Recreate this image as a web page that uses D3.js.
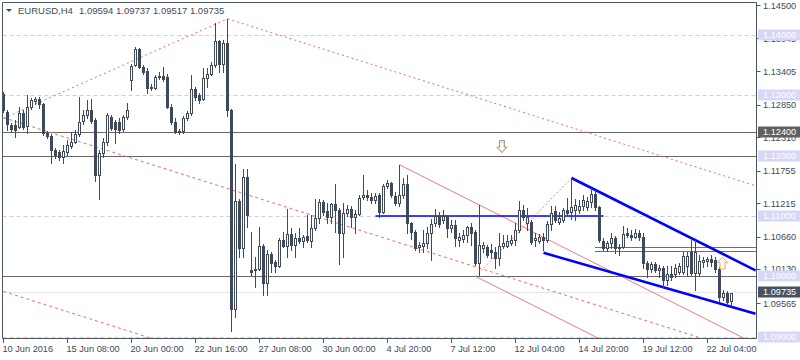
<!DOCTYPE html>
<html>
<head>
<meta charset="utf-8">
<script src="https://cdn.jsdelivr.net/npm/d3@7"></script>
<style>
    html, body { margin: 0; padding: 0; background: #fff; }
    svg { display: block; font-family: "Liberation Sans", Arial, sans-serif; }
</style>
</head>
<body>
<svg id="chart" width="800" height="360"></svg>
<script>
// EURUSD H4 candles (bar 0 = 10 Jun 16:00)
const open = [
    1.1303,1.1273,1.1252,1.1252,1.1249,1.1272,1.1250,1.1282,1.1292,1.1295,
    1.1287,1.1239,1.1234,1.1210,1.1207,1.1199,1.1207,1.1217,1.1224,1.1237,
    1.1259,1.1268,1.1277,1.1260,1.1169,1.1205,1.1224,1.1265,1.1257,1.1257,
    1.1245,1.1265,1.1326,1.1351,1.1378,1.1348,1.1341,1.1313,1.1313,1.1332,
    1.1333,1.1332,1.1282,1.1257,1.1242,1.1242,1.1263,1.1272,1.1312,1.1302,
    1.1295,1.1330,1.1336,1.1351,1.1391,1.1353,1.1388,1.1277,1.0947,1.1126,
    1.1048,1.1166,1.1011,1.1011,1.1013,1.1051,1.0990,1.1038,1.1025,1.1018,
    1.1061,1.1051,1.1071,1.1053,1.1064,1.1059,1.1068,1.1059,1.1081,1.1098,
    1.1124,1.1109,1.1099,1.1121,1.1111,1.1073,1.1106,1.1113,1.1099,1.1104,
    1.1132,1.1136,1.1132,1.1128,1.1136,1.1108,1.1151,1.1156,1.1134,1.1123,
    1.1136,1.1154,1.1089,1.1074,1.1050,1.1051,1.1056,1.1073,1.1089,1.1101,
    1.1094,1.1101,1.1081,1.1086,1.1061,1.1063,1.1069,1.1083,1.1074,1.1023,
    1.1048,1.1050,1.1045,1.1041,1.1031,1.1051,1.1051,1.1056,1.1061,1.1078,
    1.1111,1.1089,1.1091,1.1061,1.1059,1.1066,1.1061,1.1088,1.1109,1.1091,
    1.1094,1.1111,1.1108,1.1111,1.1111,1.1118,1.1116,1.1124,1.1137,1.1116,
    1.1059,1.1048,1.1056,1.1064,1.1048,1.1050,1.1073,1.1069,1.1066,1.1073,
    1.1066,1.1023,1.1013,1.1021,1.1011,1.1015,1.0995,1.1005,1.1005,1.1008,
    1.1008,1.1018,1.1041,1.1007,1.1007,1.1025,1.1026,1.1030,1.1028,1.1013,
    1.0967,1.0973,1.09594
];
const high = [
    1.1307,1.1277,1.1255,1.1260,1.1282,1.1277,1.1302,1.1297,1.1298,1.1298,
    1.1288,1.1242,1.1237,1.1214,1.1210,1.1219,1.1227,1.1239,1.1244,1.1298,
    1.1277,1.1293,1.1295,1.1263,1.1210,1.1230,1.1272,1.1268,1.1260,1.1263,
    1.1268,1.1288,1.1353,1.1381,1.1380,1.1351,1.1346,1.1320,1.1335,1.1340,
    1.1348,1.1336,1.1287,1.1263,1.1245,1.1267,1.1275,1.1335,1.1315,1.1305,
    1.1346,1.1346,1.1356,1.1421,1.1393,1.1393,1.1428,1.1278,1.1187,1.1129,
    1.1179,1.1179,1.1074,1.1033,1.1083,1.1055,1.1045,1.1041,1.1028,1.1064,
    1.1074,1.1113,1.1081,1.1073,1.1081,1.1069,1.1103,1.1103,1.1129,1.1129,
    1.1128,1.1123,1.1123,1.1154,1.1114,1.1123,1.1119,1.1118,1.1111,1.1136,
    1.1169,1.1144,1.1139,1.1139,1.1139,1.1154,1.1161,1.1157,1.1141,1.1186,
    1.1164,1.1169,1.1091,1.1078,1.1058,1.1078,1.1083,1.1096,1.1113,1.1108,
    1.1111,1.1103,1.1094,1.1094,1.1073,1.1078,1.1084,1.1089,1.1078,1.1119,
    1.1058,1.1053,1.1055,1.1050,1.1073,1.1069,1.1069,1.1069,1.1089,1.1126,
    1.1119,1.1114,1.1094,1.1073,1.1071,1.1073,1.1093,1.1118,1.1118,1.1108,
    1.1114,1.1131,1.1164,1.1129,1.1128,1.1136,1.1132,1.1147,1.1144,1.1118,
    1.1064,1.1059,1.1073,1.1068,1.1055,1.1084,1.1081,1.1078,1.1079,1.1078,
    1.1073,1.1026,1.1025,1.1025,1.1020,1.1018,1.1018,1.1018,1.1021,1.1023,
    1.1041,1.1041,1.1061,1.1061,1.1036,1.1033,1.1033,1.1036,1.1033,1.1016,
    1.0978,1.0977,1.09737
];
const low = [
    1.1273,1.1244,1.1240,1.1232,1.1247,1.1245,1.1239,1.1278,1.1287,1.1280,
    1.1235,1.1230,1.1189,1.1197,1.1194,1.1189,1.1202,1.1214,1.1222,1.1234,
    1.1254,1.1263,1.1255,1.1159,1.1129,1.1199,1.1219,1.1244,1.1222,1.1239,
    1.1242,1.1262,1.1310,1.1350,1.1346,1.1336,1.1305,1.1310,1.1312,1.1328,
    1.1325,1.1280,1.1254,1.1239,1.1237,1.1239,1.1260,1.1268,1.1293,1.1288,
    1.1293,1.1315,1.1335,1.1348,1.1340,1.1340,1.1267,1.0910,1.0934,1.1033,
    1.1033,1.1083,1.1003,1.0983,1.1011,1.0970,1.0970,1.1008,1.1008,1.1016,
    1.1050,1.1033,1.1045,1.1033,1.1056,1.1050,1.1058,1.1050,1.1078,1.1089,
    1.1103,1.1089,1.1089,1.1074,1.1021,1.1033,1.1101,1.1083,1.1073,1.1103,
    1.1129,1.1128,1.1123,1.1123,1.1099,1.1106,1.1147,1.1132,1.1119,1.1118,
    1.1131,1.1073,1.1063,1.1045,1.1041,1.1041,1.1048,1.1028,1.1084,1.1083,
    1.1089,1.1066,1.1074,1.1051,1.1051,1.1058,1.1058,1.1053,1.1020,1.1001,
    1.1041,1.1033,1.1031,1.1015,1.1020,1.1048,1.1050,1.1053,1.1053,1.1074,
    1.1094,1.1078,1.1055,1.1051,1.1056,1.1045,1.1058,1.1078,1.1091,1.1088,
    1.1091,1.1103,1.1096,1.1094,1.1106,1.1111,1.1111,1.1116,1.1111,1.1058,
    1.1045,1.1043,1.1048,1.1040,1.1036,1.1048,1.1066,1.1061,1.1064,1.1061,
    1.1015,1.1000,1.1008,1.1008,1.1000,1.0983,1.0987,1.0995,1.1000,1.1005,
    1.1005,1.1003,1.1003,1.0978,1.1003,1.1016,1.1018,1.1018,1.1008,1.0958,
    1.0962,1.0957,1.09517
];
const close = [
    1.1277,1.1254,1.1245,1.1244,1.1272,1.1249,1.1282,1.1293,1.1295,1.1287,
    1.1239,1.1234,1.1210,1.1202,1.1199,1.1209,1.1219,1.1224,1.1237,1.1257,
    1.1268,1.1277,1.1259,1.1169,1.1205,1.1224,1.1268,1.1247,1.1245,1.1244,
    1.1265,1.1277,1.1350,1.1378,1.1348,1.1340,1.1313,1.1315,1.1332,1.1333,
    1.1328,1.1282,1.1257,1.1240,1.1240,1.1263,1.1272,1.1312,1.1298,1.1293,
    1.1330,1.1336,1.1351,1.1391,1.1353,1.1388,1.1277,1.0947,1.1126,1.1048,
    1.1166,1.1103,1.1008,1.1013,1.1051,1.0990,1.1038,1.1023,1.1018,1.1061,
    1.1051,1.1071,1.1053,1.1064,1.1059,1.1066,1.1061,1.1081,1.1098,1.1124,
    1.1108,1.1099,1.1121,1.1111,1.1073,1.1106,1.1113,1.1099,1.1104,1.1131,
    1.1136,1.1132,1.1128,1.1134,1.1108,1.1151,1.1156,1.1136,1.1123,1.1136,
    1.1154,1.1089,1.1074,1.1048,1.1053,1.1056,1.1073,1.1088,1.1101,1.1088,
    1.1101,1.1081,1.1086,1.1064,1.1066,1.1069,1.1083,1.1073,1.1023,1.1053,
    1.1053,1.1036,1.1041,1.1031,1.1051,1.1056,1.1059,1.1061,1.1078,1.1111,
    1.1099,1.1099,1.1058,1.1064,1.1066,1.1061,1.1088,1.1106,1.1094,1.1098,
    1.1111,1.1106,1.1116,1.1119,1.1118,1.1128,1.1126,1.1137,1.1116,1.1061,
    1.1048,1.1056,1.1064,1.1048,1.1050,1.1071,1.1069,1.1066,1.1073,1.1066,
    1.1023,1.1013,1.1021,1.1011,1.1015,1.0995,1.1005,1.1000,1.1015,1.1018,
    1.1035,1.1035,1.1007,1.1041,1.1026,1.1028,1.1030,1.1025,1.1013,1.0967,
    1.0973,1.0958,1.09735
];

// axis ticks
const priceTicks = [1.145, 1.13945, 1.13405, 1.1285, 1.1231, 1.11755, 1.11215, 1.1066, 1.1013, 1.09565];
const timeTickBars = [0, 16, 32, 48, 64, 80, 96, 112, 128, 144, 160, 176];
const timeTickLabels = ['10 Jun 2016', '15 Jun 08:00', '20 Jun 00:00', '22 Jun 16:00', '27 Jun 08:00',
    '30 Jun 00:00', '4 Jul 20:00', '7 Jul 12:00', '12 Jul 04:00', '14 Jul 20:00', '19 Jul 12:00', '22 Jul 04:00'];

// horizontal line objects
const roundLevels = [1.14, 1.13, 1.12, 1.11, 1.10, 1.09];
const solidLevels = [1.124, 1.12, 1.10];
const markedLevel = 1.124;
const shortLevels = [1.1049, 1.1043];
const shortLevelStart = 148;

// trend line objects as [bar, price]
const peakRise = [[0, 1.1263], [56, 1.1428]];
const channelTop = [[56, 1.1428], [190, 1.1147]];
const channelMid = [[0, 1.1264], [190, 1.0866]];
const channelLow = [[0, 1.0976], [60, 1.0850]];
const pitchA = [99, 1.1186];
const pitchB = [118, 1.1001];
const pitchC = [142, 1.1164];
const blueFlat = [[93, 1.1101], [150, 1.1101]];
const blueUpper = [[142, 1.1164], [188, 1.1011]];
const blueLower = [[135, 1.1040], [188, 1.0939]];

// arrow markers [bar, price]
const downArrow = [124.6, 1.1216];
const upArrow = [179.75, 1.1023];

const ink = '#3e4a5a';
const lavender = '#cacaf2';
const redLine = '#ef6b6b';

const svg = d3.select('#chart');
const x = d3.scaleLinear().domain([0, 182]).range([3.5, 731.5]);
const y = d3.scaleLinear().domain([1.09, 1.145]).range([337.3, 5.5]);
const snap = v => Math.round(v - 0.5) + 0.5;
const fmt = d3.format('.5f');

const plotLeft = 2.5, plotRight = 756.5, plotTop = 2.5, plotBottom = 338.5;

svg.append('rect').attr('width', 800).attr('height', 360).attr('fill', '#fff');

svg.append('clipPath').attr('id', 'plot-clip')
    .append('rect')
    .attr('x', plotLeft + 0.5).attr('y', plotTop + 0.5)
    .attr('width', plotRight - plotLeft - 1).attr('height', plotBottom - plotTop - 1);

const plot = svg.append('g').attr('clip-path', 'url(#plot-clip)');

// round-number levels
plot.selectAll('line.round')
    .data(roundLevels)
    .enter().append('line')
    .attr('class', 'round')
    .attr('x1', plotLeft).attr('x2', plotRight)
    .attr('y1', d => snap(y(d))).attr('y2', d => snap(y(d)))
    .attr('stroke', lavender)
    .attr('stroke-dasharray', '4,3');

plot.selectAll('line.solid')
    .data(solidLevels)
    .enter().append('line')
    .attr('class', 'solid')
    .attr('x1', plotLeft).attr('x2', plotRight)
    .attr('y1', d => snap(y(d))).attr('y2', d => snap(y(d)))
    .attr('stroke', '#676767');

plot.selectAll('line.short')
    .data(shortLevels)
    .enter().append('line')
    .attr('class', 'short')
    .attr('x1', x(shortLevelStart) - 0.5).attr('x2', plotRight)
    .attr('y1', d => snap(y(d))).attr('y2', d => snap(y(d)))
    .attr('stroke', '#6f6f6f');

// bid line
const lastPrice = close[close.length - 1];
plot.append('line')
    .attr('x1', plotLeft).attr('x2', plotRight)
    .attr('y1', snap(y(lastPrice))).attr('y2', snap(y(lastPrice)))
    .attr('stroke', '#e6e6e6');

const trend = d3.line().x(d => x(d[0])).y(d => y(d[1]));

function drawTrend(points, color, width, dash) {
    plot.append('path')
        .attr('d', trend(points))
        .attr('fill', 'none')
        .attr('stroke', color)
        .attr('stroke-width', width)
        .attr('stroke-dasharray', dash || null);
}

drawTrend(peakRise, redLine, 1, '2,3');
drawTrend(channelTop, redLine, 1, '2,3');
drawTrend(channelMid, redLine, 1, '3,3');
drawTrend(channelLow, redLine, 1, '3,3');

// Andrews pitchfork from A, B, C
const mid = [(pitchB[0] + pitchC[0]) / 2, (pitchB[1] + pitchC[1]) / 2];
const slope = (mid[1] - pitchA[1]) / (mid[0] - pitchA[0]);
const forkEnd = 195;
const ray = p => [p, [forkEnd, p[1] + slope * (forkEnd - p[0])]];
drawTrend(ray(pitchA), '#f07c7c', 1);
drawTrend(ray(pitchB), '#f07c7c', 1);
drawTrend(ray(pitchC), '#f07c7c', 1);
drawTrend([pitchB, pitchC], '#f07c7c', 1, '2,2');

drawTrend(blueFlat, '#0000ff', 1.5);
drawTrend(blueUpper, '#0000ff', 2.6);
drawTrend(blueLower, '#0000ff', 2.6);

// candles
const bars = open.map((o, i) => ({i: i, o: o, h: high[i], l: low[i], c: close[i]}));

const candle = plot.selectAll('g.candle')
    .data(bars)
    .enter().append('g')
    .attr('class', 'candle');

candle.append('rect')
    .attr('x', d => x(d.i) - 0.5)
    .attr('y', d => Math.round(y(d.h)))
    .attr('width', 1)
    .attr('height', d => Math.round(y(d.l)) - Math.round(y(d.h)) + 1)
    .attr('fill', ink);

candle.each(function (d) {
    const g = d3.select(this);
    const top = Math.round(y(Math.max(d.o, d.c)));
    const bot = Math.round(y(Math.min(d.o, d.c)));
    const cx = x(d.i);
    if (d.c >= d.o && bot > top) {
        g.append('rect')
            .attr('x', cx - 1).attr('y', top + 0.5)
            .attr('width', 2).attr('height', bot - top)
            .attr('fill', '#fff').attr('stroke', ink);
    } else {
        g.append('rect')
            .attr('x', cx - 1.5).attr('y', top)
            .attr('width', 3).attr('height', bot - top + 1)
            .attr('fill', ink);
    }
});

// arrow markers
function arrowPath(cx, cy, up) {
    const s = up ? -1 : 1;
    const p = d3.path();
    p.moveTo(cx - 2.5, cy - 6 * s);
    p.lineTo(cx + 2.5, cy - 6 * s);
    p.lineTo(cx + 2.5, cy + 0.5 * s);
    p.lineTo(cx + 5, cy + 0.5 * s);
    p.lineTo(cx, cy + 6 * s);
    p.lineTo(cx - 5, cy + 0.5 * s);
    p.lineTo(cx - 2.5, cy + 0.5 * s);
    p.closePath();
    return p.toString();
}

plot.append('path')
    .attr('d', arrowPath(x(downArrow[0]), y(downArrow[1]), false))
    .attr('fill', '#fff').attr('stroke', '#8a8a8a');
plot.append('path')
    .attr('d', arrowPath(x(downArrow[0]), y(downArrow[1]) + 0.5, false))
    .attr('fill', 'none').attr('stroke', '#f3b26a').attr('stroke-width', 0.8)
    .attr('transform', `translate(${x(downArrow[0]) * 0.2},${y(downArrow[1]) * 0.2}) scale(0.8)`);
plot.append('path')
    .attr('d', arrowPath(x(upArrow[0]), y(upArrow[1]), true))
    .attr('fill', '#fff').attr('stroke', '#f0a55a');

// frame
svg.append('path')
    .attr('d', `M${plotLeft},${plotTop}V${plotBottom}H${plotRight}V${plotTop}H${plotLeft}`)
    .attr('fill', 'none')
    .attr('stroke', '#4c5764');

// price axis
const priceAxis = svg.append('g');
priceAxis.selectAll('line')
    .data(priceTicks)
    .enter().append('line')
    .attr('x1', plotRight).attr('x2', 760.5)
    .attr('y1', d => snap(y(d))).attr('y2', d => snap(y(d)))
    .attr('stroke', '#4c5764');
priceAxis.selectAll('text')
    .data(priceTicks)
    .enter().append('text')
    .attr('x', 763)
    .attr('y', d => y(d) + 3.3)
    .attr('font-size', 9.2)
    .attr('fill', ink)
    .text(d => fmt(d));

function priceTag(price, bg, fg) {
    const cy = snap(y(price)) - 0.5;
    svg.append('rect')
        .attr('x', 758).attr('y', cy - 5.5)
        .attr('width', 42).attr('height', 11)
        .attr('fill', bg);
    svg.append('text')
        .attr('x', 763).attr('y', cy + 3.3)
        .attr('font-size', 9.2)
        .attr('fill', fg)
        .text(fmt(price));
}

roundLevels.forEach(p => priceTag(p, '#d7d7f7', '#ffffff'));
priceTag(markedLevel, '#606060', '#ffffff');
priceTag(lastPrice, '#47525f', '#ffffff');

// time axis
const timeAxis = svg.append('g');
timeAxis.selectAll('line')
    .data(timeTickBars)
    .enter().append('line')
    .attr('x1', d => x(d)).attr('x2', d => x(d))
    .attr('y1', plotBottom).attr('y2', 343)
    .attr('stroke', '#4c5764');
timeAxis.selectAll('text')
    .data(timeTickBars)
    .enter().append('text')
    .attr('x', d => x(d) - 1)
    .attr('y', 351.5)
    .attr('font-size', 9.2)
    .attr('fill', ink)
    .text((d, k) => timeTickLabels[k]);

// header
svg.append('path').attr('d', 'M6,9L12,9L9,12Z').attr('fill', ink);
svg.append('text')
    .attr('x', 18).attr('y', 14)
    .attr('font-size', 9.5)
    .attr('fill', ink)
    .text('EURUSD,H4');
svg.append('text')
    .attr('x', 79).attr('y', 14)
    .attr('font-size', 9.5)
    .attr('fill', ink)
    .text([open, high, low, close].map(s => fmt(s[s.length - 1])).join(' '));
</script>
</body>
</html>
